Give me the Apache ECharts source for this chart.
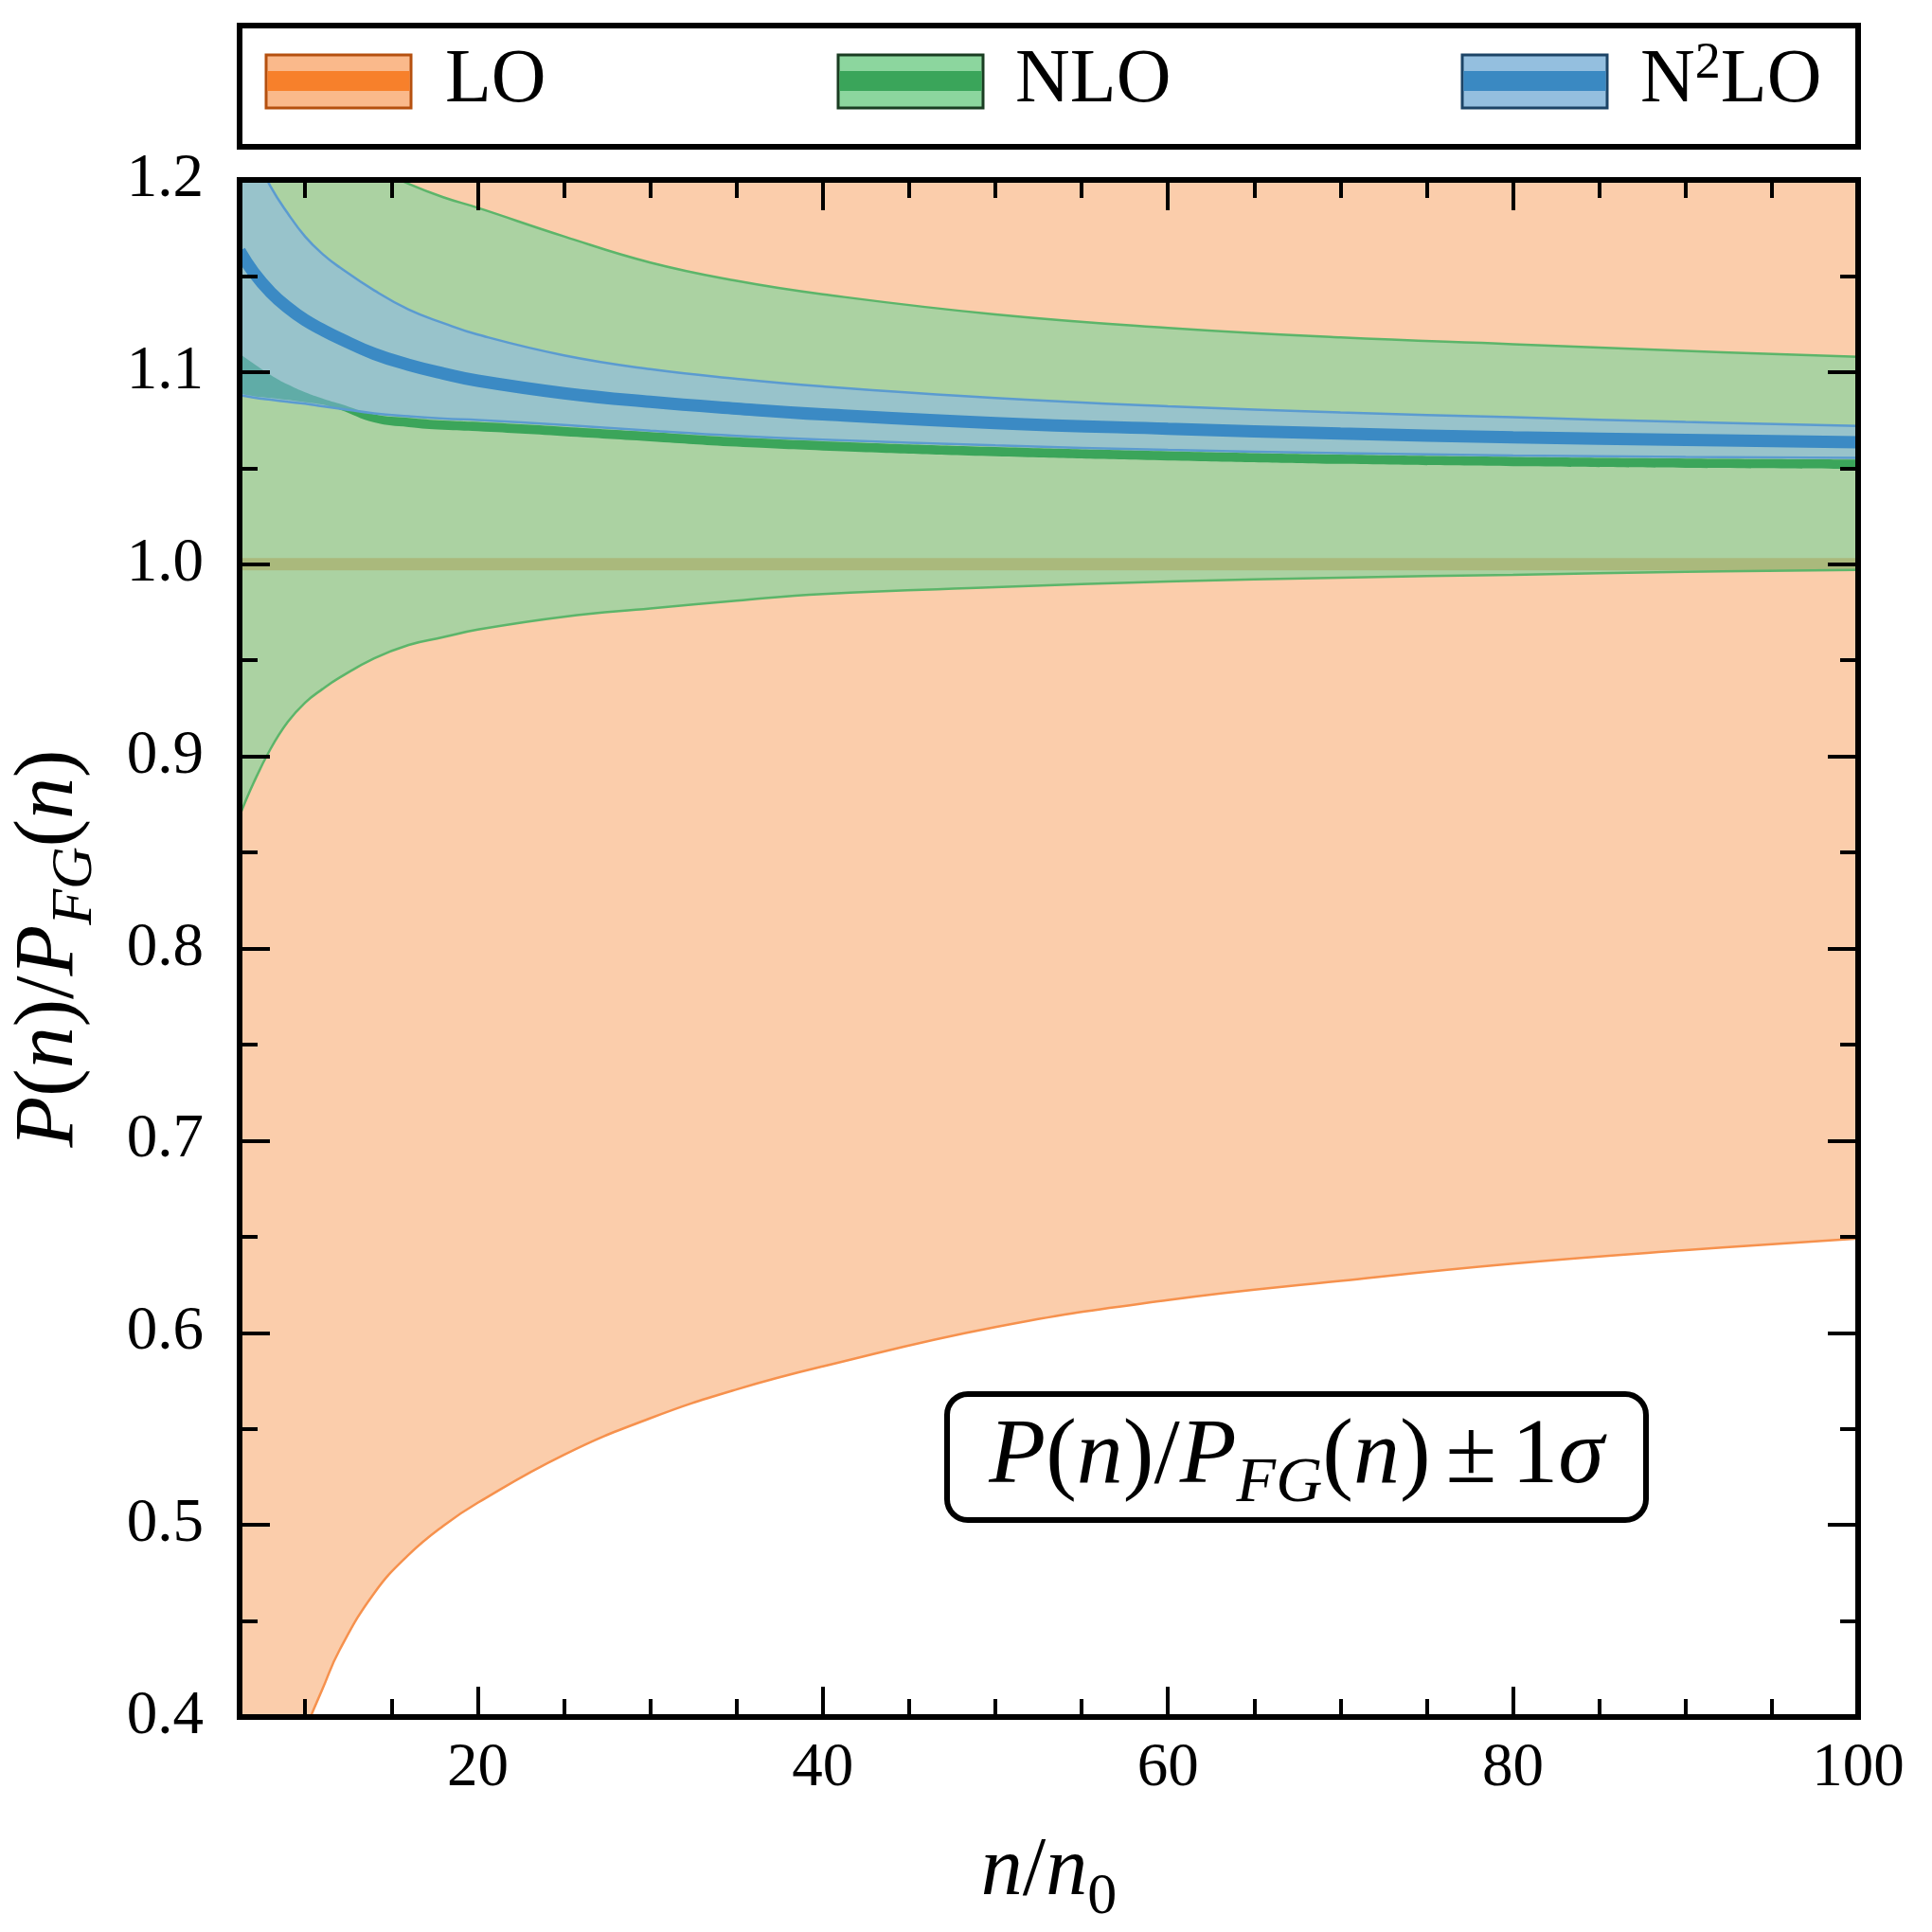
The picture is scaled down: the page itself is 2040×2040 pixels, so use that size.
<!DOCTYPE html>
<html>
<head>
<meta charset="utf-8">
<script src="https://cdn.jsdelivr.net/npm/echarts@6/dist/echarts.min.js"></script>
<style>
html, body { margin: 0; padding: 0; background: #fff; }
#chart { width: 2040px; height: 2040px; }
</style>
</head>
<body>
<div id="chart"></div>
<script>
// n/n0 sample points
const xs = [6.2, 7, 8, 9, 10, 11, 12, 14, 16, 18, 20, 25, 30, 35, 40, 50, 60, 70, 80, 90, 100];

// LO band (upper edge is off the plot)
const loLo  = [0.295, 0.32, 0.348, 0.372, 0.3935, 0.4145, 0.435, 0.4645, 0.4845, 0.4995, 0.5115, 0.5365, 0.5555, 0.5705, 0.5825, 0.603, 0.617, 0.627, 0.636, 0.643, 0.649];
const loMid = [1.0, 1.0, 1.0, 1.0, 1.0, 1.0, 1.0, 1.0, 1.0, 1.0, 1.0, 1.0, 1.0, 1.0, 1.0, 1.0, 1.0, 1.0, 1.0, 1.0, 1.0];
const loHi  = [1.70, 1.68, 1.65, 1.63, 1.61, 1.58, 1.56, 1.53, 1.52, 1.50, 1.49, 1.47, 1.45, 1.43, 1.42, 1.40, 1.38, 1.37, 1.36, 1.36, 1.35];

// NLO band
const nloLo = [0.869, 0.886, 0.904, 0.918, 0.928, 0.935, 0.941, 0.951, 0.958, 0.962, 0.966, 0.9727, 0.977, 0.981, 0.9845, 0.988, 0.991, 0.993, 0.9945, 0.996, 0.997];
const nloHi = [1.30, 1.285, 1.268, 1.252, 1.239, 1.228, 1.219, 1.2065, 1.198, 1.191, 1.1855, 1.1706, 1.157, 1.1475, 1.1405, 1.130, 1.123, 1.118, 1.1145, 1.111, 1.108];
// NLO central curve (thick)
const nloMidLo = [1.089, 1.0875, 1.0865, 1.0855, 1.0843, 1.083, 1.0805, 1.0738, 1.0714, 1.070, 1.0692, 1.0667, 1.064, 1.0612, 1.0592, 1.0562, 1.054, 1.0522, 1.051, 1.0502, 1.0497];
const nloMidHi = [1.1095, 1.1045, 1.0985, 1.0935, 1.0895, 1.0863, 1.0835, 1.078, 1.0762, 1.0748, 1.074, 1.0715, 1.0688, 1.066, 1.064, 1.061, 1.0588, 1.057, 1.0558, 1.055, 1.0545];

// N2LO band
const n2Lo  = [1.088, 1.0868, 1.0856, 1.0845, 1.0835, 1.0822, 1.081, 1.0785, 1.077, 1.0758, 1.075, 1.0725, 1.0695, 1.0668, 1.0648, 1.0618, 1.0595, 1.0578, 1.0566, 1.0558, 1.0553];
const n2Mid = [1.163, 1.152, 1.1415, 1.1335, 1.127, 1.122, 1.1175, 1.1095, 1.1038, 1.0993, 1.0955, 1.089, 1.0845, 1.081, 1.078, 1.0735, 1.0705, 1.068, 1.066, 1.0647, 1.0635];
const n2Hi  = [1.235, 1.215, 1.1965, 1.1825, 1.1705, 1.1615, 1.1545, 1.1425, 1.1325, 1.1255, 1.1195, 1.1087, 1.1015, 1.0965, 1.0925, 1.0865, 1.0822, 1.079, 1.0765, 1.074, 1.072];

// ticks
const xMajor = [20, 40, 60, 80, 100];
const xMinor = [10, 15, 25, 30, 35, 45, 50, 55, 65, 70, 75, 85, 90, 95];

const FONT = 'Liberation Serif';

// rows are [y, x] so that the stack runs on y (first value dimension)
const rows = ys => xs.map((x, i) => [ys[i], x]);
const diffRows = (hi, lo) => xs.map((x, i) => [+(hi[i] - lo[i]).toFixed(5), x]);

function band(name, lo, hi, fill, edge, w, z) {
    const common = {
        type: 'line', stack: name, stackStrategy: 'all', symbol: 'none', z: z,
        dimensions: ['v', 'n'], encode: { x: 1, y: 0 },
        smooth: 0.45, silent: true, xAxisIndex: 0, yAxisIndex: 0
    };
    return [
        Object.assign({}, common, { name: name + '_lo', data: rows(lo), lineStyle: { color: edge, width: w } }),
        Object.assign({}, common, { name: name + '_hi', data: diffRows(hi, lo), lineStyle: { color: edge, width: w },
            areaStyle: { color: fill, opacity: 1 } })
    ];
}

function midLine(name, ys, color, z) {
    return {
        name: name, type: 'line', data: rows(ys), dimensions: ['v', 'n'], encode: { x: 1, y: 0 }, z: z,
        symbol: 'none', smooth: 0.45, silent: true, lineStyle: { color: color, width: 13 }
    };
}

const math = {
    i: { fontFamily: FONT, fontStyle: 'italic', fontSize: 88, lineHeight: 116, color: '#000' },
    r: { fontFamily: FONT, fontSize: 88, lineHeight: 116, color: '#000' },
    s: { fontFamily: FONT, fontStyle: 'italic', fontSize: 62, lineHeight: 74, verticalAlign: 'bottom', color: '#000' },
    z: { fontFamily: FONT, fontSize: 62, lineHeight: 74, verticalAlign: 'bottom', color: '#000' }
};

const axisLine = { show: true, onZero: false, lineStyle: { color: '#000', width: 6, cap: 'square' } };
const tickStyle = { color: '#000', width: 4 };
const labelStyle = { fontFamily: FONT, fontSize: 65, color: '#000' };

function xAx(pos, major) {
    return {
        type: 'value', position: pos, min: 6.2, max: 100, z: 20,
        splitLine: { show: false },
        axisLine: major ? axisLine : { show: false },
        axisTick: { show: true, inside: true, length: major ? 32 : 19, lineStyle: tickStyle,
            customValues: major ? xMajor : xMinor },
        axisLabel: (pos === 'bottom' && major)
            ? Object.assign({ show: true, margin: 22, customValues: xMajor }, labelStyle)
            : { show: false }
    };
}

function yAx(pos) {
    return {
        type: 'value', position: pos, min: 0.4, max: 1.2, interval: 0.1, z: 20,
        splitLine: { show: false },
        axisLine: axisLine,
        axisTick: { show: true, inside: true, length: 32, lineStyle: tickStyle },
        minorTick: { show: true, splitNumber: 2, length: 19, lineStyle: tickStyle },
        minorSplitLine: { show: false },
        axisLabel: pos === 'left'
            ? Object.assign({ show: true, margin: 38, formatter: v => v.toFixed(1) }, labelStyle)
            : { show: false }
    };
}

const xBottom = xAx('bottom', true);
xBottom.name = '{i|n}{r|/}{i|n}{z|0}';
xBottom.nameLocation = 'middle';
xBottom.nameGap = 106;
xBottom.nameTextStyle = { rich: math };

const yLeft = yAx('left');
yLeft.name = '{i|P}{r|(}{i|n}{r|)/}{i|P}{s|FG}{r|(}{i|n}{r|)}';
yLeft.nameLocation = 'middle';
yLeft.nameRotate = 90;
yLeft.nameGap = 142;
yLeft.nameTextStyle = { rich: math };

// legend entries: swatch + label
const legendItems = [
    { x: 281, tx: 470, text: '{r|LO}', light: '#fab98b', dark: '#f7802b', edge: '#b5500f' },
    { x: 885, tx: 1072, text: '{r|NLO}', light: '#8cd69e', dark: '#3aa55a', edge: '#1a3d22' },
    { x: 1544, tx: 1732, text: '{r|N}{p|2}{r|LO}', light: '#94bfdf', dark: '#3a89c2', edge: '#1c4466' }
];
const legendRich = {
    r: { fontFamily: FONT, fontSize: 80, lineHeight: 90, color: '#000' },
    p: { fontFamily: FONT, fontSize: 54, lineHeight: 34, verticalAlign: 'top', color: '#000' }
};

const graphics = [
    { type: 'rect', z: 100, shape: { x: 253, y: 27, width: 1709, height: 128 },
      style: { fill: '#fff', stroke: '#000', lineWidth: 6 } },
    // mask the thick line ends that the clip lets run past the frame
    { type: 'rect', z: 10, silent: true, shape: { x: 232, y: 180, width: 19, height: 1660 }, style: { fill: '#fff' } },
    { type: 'rect', z: 10, silent: true, shape: { x: 1965, y: 180, width: 19, height: 1660 }, style: { fill: '#fff' } }
];
legendItems.forEach(it => {
    graphics.push({ type: 'rect', z: 101, shape: { x: it.x, y: 58, width: 153, height: 56 },
        style: { fill: it.light, stroke: it.edge, lineWidth: 3 } });
    graphics.push({ type: 'rect', z: 102, shape: { x: it.x + 1.5, y: 75, width: 150, height: 21 },
        style: { fill: it.dark } });
    graphics.push({ type: 'text', z: 102, style: { x: it.tx, y: 86, text: it.text, rich: legendRich,
        align: 'left', verticalAlign: 'middle' } });
});

const boxRich = {
    i: { fontFamily: FONT, fontStyle: 'italic', fontSize: 98, lineHeight: 124, color: '#000' },
    r: { fontFamily: FONT, fontSize: 98, lineHeight: 124, color: '#000' },
    pm: { fontFamily: FONT, fontSize: 98, lineHeight: 124, color: '#000', padding: [0, 16, 0, 16] },
    s: { fontFamily: FONT, fontStyle: 'italic', fontSize: 68, lineHeight: 80, verticalAlign: 'bottom', color: '#000' }
};
graphics.push({ type: 'rect', z: 100, shape: { x: 1000, y: 1472, width: 738, height: 133, r: 22 },
    style: { fill: '#fff', stroke: '#000', lineWidth: 6 } });
graphics.push({ type: 'text', z: 101, style: { x: 1369, y: 1539,
    text: '{i|P}{r|(}{i|n}{r|)/}{i|P}{s|FG}{r|(}{i|n}{r|)}{pm|±}{r|1}{i|σ}',
    rich: boxRich, align: 'center', verticalAlign: 'middle' } });

const series = [].concat(
    band('LO', loLo, loHi, 'rgba(245,130,45,0.4)', '#f6914d', 2.5, 2),
    [midLine('LO_mid', loMid, '#f88e4c', 3)],
    band('NLO', nloLo, nloHi, 'rgba(118,213,156,0.6)', '#5cb56a', 2.5, 4),
    band('NLO_mid', nloMidLo, nloMidHi, '#3ba55a', '#3ba55a', 0, 5),
    band('N2LO', n2Lo, n2Hi, 'rgba(133,180,244,0.5)', '#5b9bd0', 2.5, 6),
    [midLine('N2LO_mid', n2Mid, '#3b8ac4', 7)]
);

const chart = echarts.init(document.getElementById('chart'));
chart.setOption({
    animation: false,
    backgroundColor: '#fff',
    grid: { left: 253, right: 78, top: 190, bottom: 212, containLabel: false },
    xAxis: [xBottom, xAx('bottom', false), xAx('top', true), xAx('top', false)],
    yAxis: [yLeft, yAx('right')],
    series: series,
    graphic: graphics
});
</script>
</body>
</html>
